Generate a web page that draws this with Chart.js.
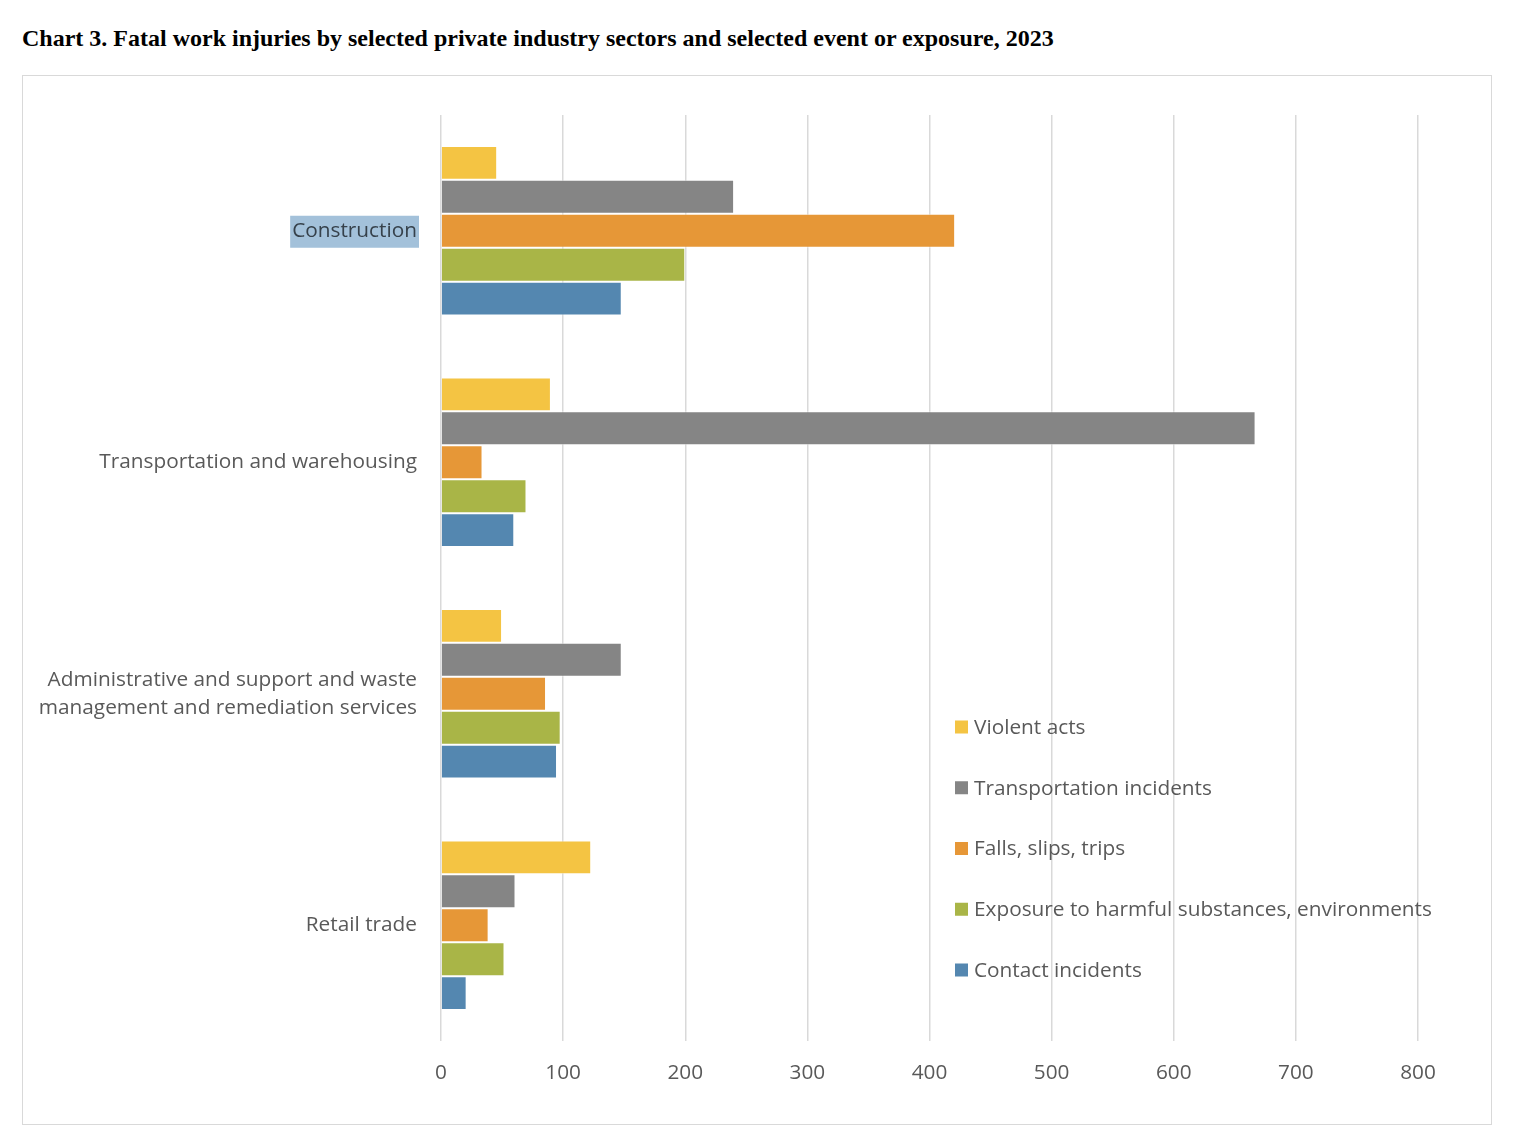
<!DOCTYPE html>
<html>
<head>
<meta charset="utf-8">
<script src="https://cdn.jsdelivr.net/npm/chart.js@4/dist/chart.umd.min.js"></script>
<style>
  html, body { margin: 0; padding: 0; background: #fff; }
  body { width: 1516px; height: 1148px; position: relative; overflow: hidden; }
  #title { position: absolute; left: 22px; top: 25px; font-family: "Liberation Serif", "Times New Roman", serif; font-weight: bold; font-size: 24px; color: #000; white-space: nowrap; }
  #box { position: absolute; left: 22px; top: 75px; width: 1468px; height: 1048px; border: 1.5px solid #d9d9d9; }
  #wrap { position: absolute; left: 0; top: 0; width: 1468px; height: 1048px; }
</style>
</head>
<body>
<div id="title">Chart 3. Fatal work injuries by selected private industry sectors and selected event or exposure, 2023</div>
<div id="box"><div id="wrap"><canvas id="c"></canvas></div></div>
<script>
const categories = [
  "Construction",
  "Transportation and warehousing",
  ["Administrative and support and waste", "management and remediation services"],
  "Retail trade"
];
const seriesNames = ["Violent acts", "Transportation incidents", "Falls, slips, trips", "Exposure to harmful substances, environments", "Contact incidents"];
const violentActs = [46, 90, 50, 123];
const transportationIncidents = [240, 667, 148, 61];
const fallsSlipsTrips = [421, 34, 86, 39];
const exposureHarmful = [200, 70, 98, 52];
const contactIncidents = [148, 60, 95, 21];
const xTicks = [0, 100, 200, 300, 400, 500, 600, 700, 800];
const colors = ["#F4C443", "#858585", "#E69737", "#A9B547", "#5487B0"];

const seriesValues = [violentActs, transportationIncidents, fallsSlipsTrips, exposureHarmful, contactIncidents];
const FONT = "'Open Sans', Lato, sans-serif";
const FS = 20.8;

const highlightPlugin = {
  id: 'highlight',
  beforeDraw(chart) {
    const ys = chart.scales.y;
    const ctx = chart.ctx;
    const y = ys.getPixelForValue(0);
    ctx.save();
    ctx.font = FS + "px " + FONT;
    const w = ctx.measureText(categories[0]).width;
    const right = chart.chartArea.left - 23;
    ctx.fillStyle = "#A3C1DA";
    ctx.fillRect(right - w - 3, y - 15, w + 4, 32);
    ctx.restore();
  }
};

const legendPlugin = {
  id: 'customLegend',
  afterDraw(chart) {
    const ctx = chart.ctx;
    const a = chart.chartArea;
    ctx.save();
    ctx.font = FS + "px " + FONT;
    ctx.textBaseline = "middle";
    const x0 = a.left + 514;
    const y0 = a.top + 612;
    const gap = 60.75;
    chart.data.datasets.forEach((ds, i) => {
      const cy = y0 + i * gap;
      ctx.fillStyle = ds.backgroundColor;
      ctx.fillRect(x0, cy - 6.5, 13, 13);
      ctx.fillStyle = "#595959";
      ctx.fillText(ds.label, x0 + 19, cy + 1);
    });
    ctx.restore();
  }
};

new Chart(document.getElementById('c'), {
  type: 'bar',
  data: {
    labels: categories,
    datasets: seriesNames.map((name, i) => ({
      label: name,
      data: seriesValues[i],
      backgroundColor: colors[i],
      borderColor: "rgba(255,255,255,0.55)",
      borderWidth: 1,
      barPercentage: 1.0,
      categoryPercentage: 0.733
    }))
  },
  options: {
    indexAxis: 'y',
    responsive: true,
    maintainAspectRatio: false,
    animation: false,
    layout: { padding: { top: 39, right: 73, left: 0, bottom: 0 } },
    plugins: { legend: { display: false }, tooltip: { enabled: false }, title: { display: false } },
    scales: {
      x: {
        min: 0, max: 800,
        afterBuildTicks(scale) { scale.ticks = xTicks.map(v => ({ value: v })); },
        afterFit(scale) { scale.height = 83; },
        grid: { color: "#d9d9d9", lineWidth: 1.5, drawTicks: false },
        border: { display: false },
        ticks: { color: "#595959", font: { family: FONT, size: FS }, padding: 20 }
      },
      y: {
        afterFit(scale) { scale.width = 418; },
        grid: { display: false, drawTicks: false },
        border: { display: false },
        ticks: {
          color: (c) => c.index === 0 ? "#36414b" : "#595959",
          font: { family: FONT, size: FS, lineHeight: 1.35 },
          padding: 24
        }
      }
    }
  },
  plugins: [highlightPlugin, legendPlugin]
});
</script>
</body>
</html>
